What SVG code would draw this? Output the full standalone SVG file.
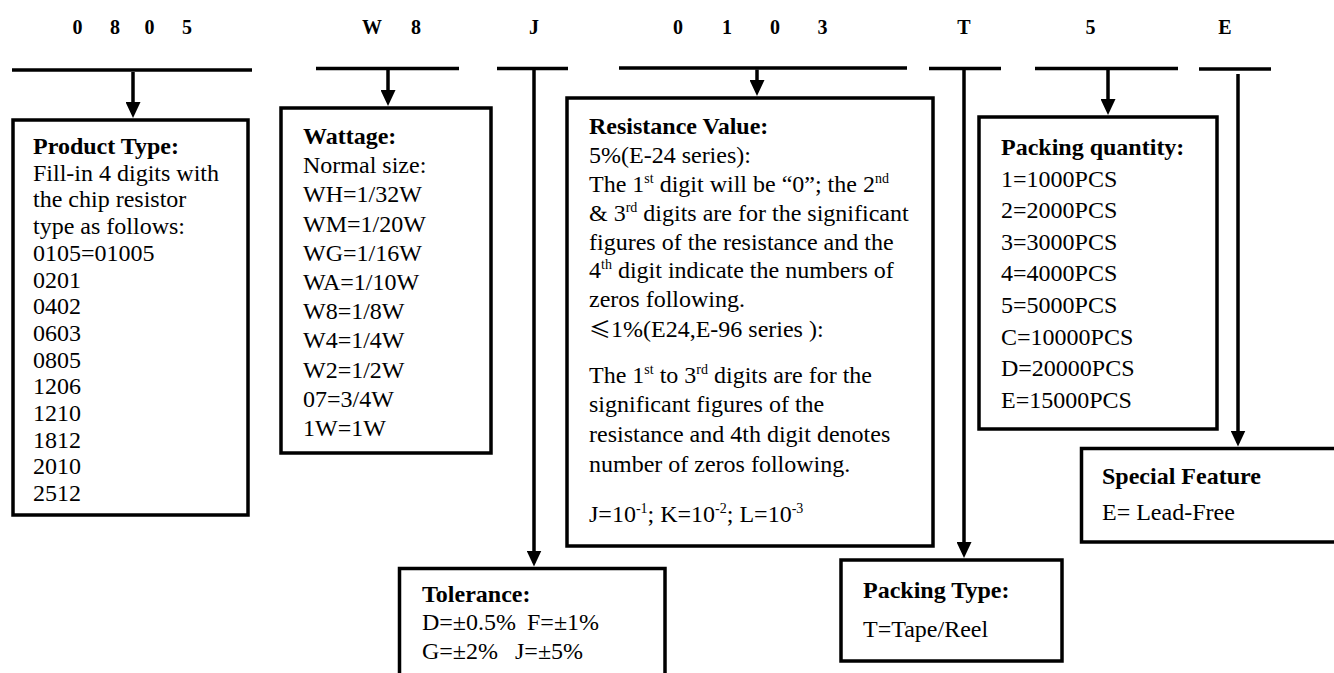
<svg xmlns="http://www.w3.org/2000/svg" width="1334" height="673" viewBox="0 0 1334 673">
<style>
  .bg{fill:#ffffff}
  .code{font-family:"Liberation Serif","Times New Roman",serif;font-size:20px;font-weight:bold;fill:#000;text-anchor:middle}
  .bar{stroke:#000;stroke-width:3.5;fill:none}
  .box{fill:#fff;stroke:#000;stroke-width:3.5}
  .t{font-family:"Liberation Serif","Times New Roman",serif;font-size:24px;fill:#000}
  .b{font-weight:bold}
  .sup{font-size:14px}
  .cjk{font-family:"Noto Sans CJK SC","Liberation Serif",sans-serif;font-size:22px}
  .conn{stroke:#000;stroke-width:3.5;fill:none;marker-end:url(#ah)}
</style>
<defs>
  <marker id="ah" markerUnits="userSpaceOnUse" viewBox="0 0 16 15" markerWidth="16" markerHeight="15" refX="12" refY="7.5" orient="auto">
    <path d="M0,0 L16,7.5 L0,15 Z" fill="#000"/>
  </marker>
</defs>
<rect class="bg" x="0" y="0" width="1334" height="673"/>

<g id="code-segments">
  <g id="seg-0805">
    <text class="code" y="34"><tspan x="77.5">0</tspan><tspan x="115">8</tspan><tspan x="149.5">0</tspan><tspan x="187">5</tspan></text>
    <line class="bar" x1="12" y1="70" x2="252" y2="70"/>
  </g>
  <g id="seg-W8">
    <text class="code" y="34"><tspan x="372">W</tspan><tspan x="416">8</tspan></text>
    <line class="bar" x1="316" y1="68.5" x2="459" y2="68.5"/>
  </g>
  <g id="seg-J">
    <text class="code" y="34" x="534">J</text>
    <line class="bar" x1="497" y1="68.5" x2="568" y2="68.5"/>
  </g>
  <g id="seg-0103">
    <text class="code" y="34"><tspan x="678">0</tspan><tspan x="727">1</tspan><tspan x="775">0</tspan><tspan x="822.5">3</tspan></text>
    <line class="bar" x1="619" y1="68" x2="907" y2="68"/>
  </g>
  <g id="seg-T">
    <text class="code" y="34" x="964">T</text>
    <line class="bar" x1="929" y1="68.5" x2="1001" y2="68.5"/>
  </g>
  <g id="seg-5">
    <text class="code" y="34" x="1090.5">5</text>
    <line class="bar" x1="1035" y1="68.5" x2="1178" y2="68.5"/>
  </g>
  <g id="seg-E">
    <text class="code" y="34" x="1225">E</text>
    <line class="bar" x1="1199" y1="69" x2="1271" y2="69"/>
  </g>
</g>

<g id="connectors">
  <line class="conn" x1="133" y1="72" x2="133" y2="114"/>
  <line class="conn" x1="388" y1="70" x2="388" y2="102"/>
  <line class="conn" x1="534" y1="70" x2="534" y2="562.5"/>
  <line class="conn" x1="757" y1="69.5" x2="757" y2="92"/>
  <line class="conn" x1="964" y1="70" x2="964" y2="554"/>
  <line class="conn" x1="1108" y1="70" x2="1108" y2="111"/>
  <line class="conn" x1="1238" y1="74" x2="1238" y2="442.5"/>
</g>

<g id="node-product-type">
  <rect class="box" x="13" y="120" width="235" height="395"/>
  <text class="t" x="33" y="154">
    <tspan class="b" x="33">Product Type:</tspan>
    <tspan x="33" dy="26.7">Fill-in 4 digits with</tspan>
    <tspan x="33" dy="26.7">the chip resistor</tspan>
    <tspan x="33" dy="26.7">type as follows:</tspan>
    <tspan x="33" dy="26.7">0105=01005</tspan>
    <tspan x="33" dy="26.7">0201</tspan>
    <tspan x="33" dy="26.7">0402</tspan>
    <tspan x="33" dy="26.7">0603</tspan>
    <tspan x="33" dy="26.7">0805</tspan>
    <tspan x="33" dy="26.7">1206</tspan>
    <tspan x="33" dy="26.7">1210</tspan>
    <tspan x="33" dy="26.7">1812</tspan>
    <tspan x="33" dy="26.7">2010</tspan>
    <tspan x="33" dy="26.7">2512</tspan>
  </text>
</g>

<g id="node-wattage">
  <rect class="box" x="281" y="108" width="210" height="345"/>
  <text class="t" x="303" y="144">
    <tspan class="b" x="303">Wattage:</tspan>
    <tspan x="303" dy="29.2">Normal size:</tspan>
    <tspan x="303" dy="29.2">WH=1/32W</tspan>
    <tspan x="303" dy="29.2">WM=1/20W</tspan>
    <tspan x="303" dy="29.2">WG=1/16W</tspan>
    <tspan x="303" dy="29.2">WA=1/10W</tspan>
    <tspan x="303" dy="29.2">W8=1/8W</tspan>
    <tspan x="303" dy="29.2">W4=1/4W</tspan>
    <tspan x="303" dy="29.2">W2=1/2W</tspan>
    <tspan x="303" dy="29.2">07=3/4W</tspan>
    <tspan x="303" dy="29.2">1W=1W</tspan>
  </text>
</g>

<g id="node-resistance-value">
  <rect class="box" x="567" y="98" width="366" height="448"/>
  <text class="t b" x="589" y="134">Resistance Value:</text>
  <text class="t" x="589" y="163">5%(E-24 series):</text>
  <text class="t" x="589" y="192">The 1<tspan class="sup" dy="-9">st</tspan><tspan dy="9"> digit will be “0”; the 2</tspan><tspan class="sup" dy="-9">nd</tspan></text>
  <text class="t" x="589" y="221">&amp; 3<tspan class="sup" dy="-9">rd</tspan><tspan dy="9"> digits are for the significant</tspan></text>
  <text class="t" x="589" y="250">figures of the resistance and the</text>
  <text class="t" x="589" y="278">4<tspan class="sup" dy="-9">th</tspan><tspan dy="9"> digit indicate the numbers of</tspan></text>
  <text class="t" x="589" y="307">zeros following.</text>
  <text class="t" x="589" y="337"><tspan class="cjk">≤</tspan>1%(E24,E-96 series ):</text>
  <text class="t" x="589" y="383">The 1<tspan class="sup" dy="-9">st</tspan><tspan dy="9"> to 3</tspan><tspan class="sup" dy="-9">rd</tspan><tspan dy="9"> digits are for the</tspan></text>
  <text class="t" x="589" y="412">significant figures of the</text>
  <text class="t" x="589" y="442">resistance and 4th digit denotes</text>
  <text class="t" x="589" y="472">number of zeros following.</text>
  <text class="t" x="589" y="522">J=10<tspan class="sup" dy="-9">-1</tspan><tspan dy="9">; K=10</tspan><tspan class="sup" dy="-9">-2</tspan><tspan dy="9">; L=10</tspan><tspan class="sup" dy="-9">-3</tspan></text>
</g>

<g id="node-packing-quantity">
  <rect class="box" x="979" y="117" width="238" height="312"/>
  <text class="t" x="1001" y="155">
    <tspan class="b" x="1001">Packing quantity:</tspan>
    <tspan x="1001" dy="31.6">1=1000PCS</tspan>
    <tspan x="1001" dy="31.6">2=2000PCS</tspan>
    <tspan x="1001" dy="31.6">3=3000PCS</tspan>
    <tspan x="1001" dy="31.6">4=4000PCS</tspan>
    <tspan x="1001" dy="31.6">5=5000PCS</tspan>
    <tspan x="1001" dy="31.6">C=10000PCS</tspan>
    <tspan x="1001" dy="31.6">D=20000PCS</tspan>
    <tspan x="1001" dy="31.6">E=15000PCS</tspan>
  </text>
</g>

<g id="node-special-feature">
  <rect class="box" x="1081.5" y="448.5" width="262" height="93.5"/>
  <text class="t b" x="1102" y="484">Special Feature</text>
  <text class="t" x="1102" y="520">E= Lead-Free</text>
</g>

<g id="node-tolerance">
  <rect class="box" x="399.5" y="568.5" width="265.5" height="115"/>
  <text class="t b" x="422" y="602">Tolerance:</text>
  <text class="t" y="630"><tspan x="422">D=±0.5%</tspan><tspan x="527">F=±1%</tspan></text>
  <text class="t" y="659"><tspan x="422">G=±2%</tspan><tspan x="515">J=±5%</tspan></text>
</g>

<g id="node-packing-type">
  <rect class="box" x="841" y="560" width="221" height="101"/>
  <text class="t b" x="863" y="598">Packing Type:</text>
  <text class="t" x="863" y="637">T=Tape/Reel</text>
</g>
</svg>
